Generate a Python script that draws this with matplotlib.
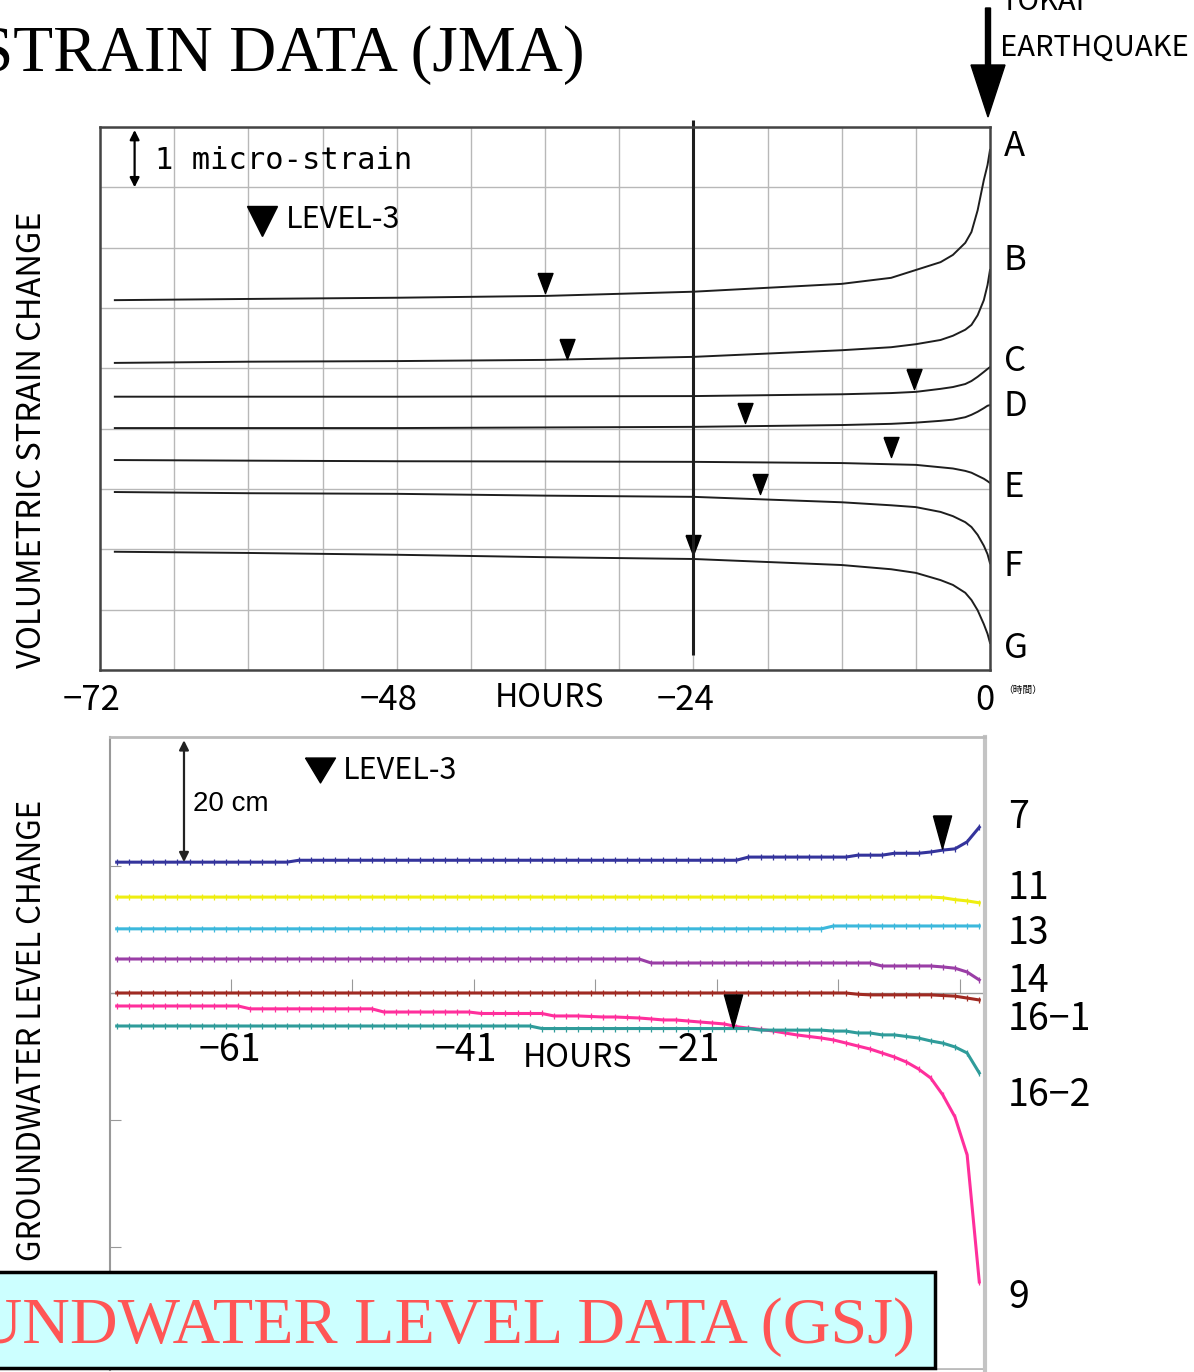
import numpy as np
import matplotlib
matplotlib.use('Agg')
import matplotlib.pyplot as plt
from matplotlib.patches import FancyArrow, Rectangle
from matplotlib.path import Path
from matplotlib.transforms import ScaledTranslation

# ---- top panel: volumetric strain (JMA), micro-strain, hours before quake
strain_hours = [-70.8, -60, -48, -36, -24, -12, -8, -6, -4, -3, -2, -1.5, -1, -0.5, -0.2, 0]
strain_A = [6.13, 6.15, 6.17, 6.20, 6.27, 6.40, 6.50, 6.63, 6.76, 6.88, 7.08, 7.26, 7.62, 8.12, 8.37, 8.62]
strain_B = [5.09, 5.11, 5.12, 5.14, 5.19, 5.30, 5.35, 5.40, 5.47, 5.54, 5.64, 5.72, 5.88, 6.13, 6.38, 6.63]
strain_C = [4.53, 4.53, 4.53, 4.535, 4.54, 4.57, 4.59, 4.61, 4.66, 4.69, 4.74, 4.79, 4.86, 4.94, 4.99, 5.02]
strain_D = [4.01, 4.01, 4.01, 4.02, 4.03, 4.06, 4.08, 4.10, 4.13, 4.15, 4.19, 4.23, 4.28, 4.34, 4.38, 4.39]
strain_E = [3.48, 3.47, 3.46, 3.456, 3.45, 3.43, 3.41, 3.40, 3.36, 3.34, 3.30, 3.27, 3.22, 3.17, 3.13, 3.10]
strain_F = [2.95, 2.93, 2.92, 2.89, 2.87, 2.78, 2.73, 2.70, 2.62, 2.55, 2.45, 2.37, 2.24, 2.06, 1.92, 1.77]
strain_G = [1.96, 1.94, 1.91, 1.87, 1.84, 1.74, 1.67, 1.61, 1.49, 1.41, 1.28, 1.16, 0.99, 0.76, 0.60, 0.45]
strain_names = ['A', 'B', 'C', 'D', 'E', 'F', 'G']
strain_label_y = [8.67, 6.78, 5.11, 4.36, 3.03, 1.72, 0.36]
# level-3 marks (hour, y)
lv3_strain_h = [-36.0, -34.2, -6.15, -19.8, -8.0, -18.6, -24.0]
lv3_strain_y = [6.41, 5.32, 4.82, 4.26, 3.70, 3.08, 2.07]

# ---- bottom panel: groundwater level (GSJ), cm, hourly
gw_hours = np.arange(-70.4, 0.61, 1.0)
gw_7 = [20.6, 20.6, 20.6, 20.6, 20.6, 20.6, 20.6, 20.6, 20.6, 20.6, 20.6, 20.6,
        20.6, 20.6, 20.6, 20.9, 20.9, 20.9, 20.9, 20.9, 20.9, 20.9, 20.9, 20.9,
        20.9, 20.9, 20.9, 20.9, 20.9, 20.9, 20.9, 20.9, 20.9, 20.9, 20.9, 20.9,
        20.9, 20.9, 20.9, 20.9, 20.9, 20.9, 20.9, 20.9, 20.9, 20.9, 20.9, 20.9,
        20.9, 20.9, 20.9, 20.9, 21.4, 21.4, 21.4, 21.4, 21.4, 21.4, 21.4, 21.4,
        21.4, 21.7, 21.7, 21.7, 22.0, 22.0, 22.0, 22.2, 22.5, 22.7, 23.8, 26.1]
gw_11 = [15.1, 15.1, 15.1, 15.1, 15.1, 15.1, 15.1, 15.1, 15.1, 15.1, 15.1, 15.1,
         15.1, 15.1, 15.1, 15.1, 15.1, 15.1, 15.1, 15.1, 15.1, 15.1, 15.1, 15.1,
         15.1, 15.1, 15.1, 15.1, 15.1, 15.1, 15.1, 15.1, 15.1, 15.1, 15.1, 15.1,
         15.1, 15.1, 15.1, 15.1, 15.1, 15.1, 15.1, 15.1, 15.1, 15.1, 15.1, 15.1,
         15.1, 15.1, 15.1, 15.1, 15.1, 15.1, 15.1, 15.1, 15.1, 15.1, 15.1, 15.1,
         15.1, 15.1, 15.1, 15.1, 15.1, 15.1, 15.1, 15.1, 15.0, 14.7, 14.5, 14.2]
gw_13 = [10.1, 10.1, 10.1, 10.1, 10.1, 10.1, 10.1, 10.1, 10.1, 10.1, 10.1, 10.1,
         10.1, 10.1, 10.1, 10.1, 10.1, 10.1, 10.1, 10.1, 10.1, 10.1, 10.1, 10.1,
         10.1, 10.1, 10.1, 10.1, 10.1, 10.1, 10.1, 10.1, 10.1, 10.1, 10.1, 10.1,
         10.1, 10.1, 10.1, 10.1, 10.1, 10.1, 10.1, 10.1, 10.1, 10.1, 10.1, 10.1,
         10.1, 10.1, 10.1, 10.1, 10.1, 10.1, 10.1, 10.1, 10.1, 10.1, 10.1, 10.55,
         10.55, 10.55, 10.55, 10.55, 10.55, 10.55, 10.55, 10.55, 10.55, 10.55, 10.55, 10.55]
gw_14 = [5.35, 5.35, 5.35, 5.35, 5.35, 5.35, 5.35, 5.35, 5.35, 5.35, 5.35, 5.35,
         5.35, 5.35, 5.35, 5.35, 5.35, 5.35, 5.35, 5.35, 5.35, 5.35, 5.35, 5.35,
         5.35, 5.35, 5.35, 5.35, 5.35, 5.35, 5.35, 5.35, 5.35, 5.35, 5.35, 5.35,
         5.35, 5.35, 5.35, 5.35, 5.35, 5.35, 5.35, 5.35, 4.72, 4.72, 4.72, 4.72,
         4.72, 4.72, 4.72, 4.72, 4.72, 4.72, 4.72, 4.72, 4.72, 4.72, 4.72, 4.72,
         4.72, 4.72, 4.72, 4.25, 4.25, 4.25, 4.25, 4.25, 4.1, 3.9, 3.3, 2.05]
gw_16_1 = [0.0, 0.0, 0.0, 0.0, 0.0, 0.0, 0.0, 0.0, 0.0, 0.0, 0.0, 0.0,
           0.0, 0.0, 0.0, 0.0, 0.0, 0.0, 0.0, 0.0, 0.0, 0.0, 0.0, 0.0,
           0.0, 0.0, 0.0, 0.0, 0.0, 0.0, 0.0, 0.0, 0.0, 0.0, 0.0, 0.0,
           0.0, 0.0, 0.0, 0.0, 0.0, 0.0, 0.0, 0.0, 0.0, 0.0, 0.0, 0.0,
           0.0, 0.0, 0.0, 0.0, 0.0, 0.0, 0.0, 0.0, 0.0, 0.0, 0.0, 0.0,
           0.0, -0.2, -0.3, -0.3, -0.3, -0.3, -0.3, -0.3, -0.4, -0.5, -0.8, -1.1]
gw_16_2 = [-5.2, -5.2, -5.2, -5.2, -5.2, -5.2, -5.2, -5.2, -5.2, -5.2, -5.2, -5.2,
           -5.2, -5.2, -5.2, -5.2, -5.2, -5.2, -5.2, -5.2, -5.2, -5.2, -5.2, -5.2,
           -5.2, -5.2, -5.2, -5.2, -5.2, -5.2, -5.2, -5.2, -5.2, -5.2, -5.2, -5.6,
           -5.6, -5.6, -5.6, -5.6, -5.6, -5.6, -5.6, -5.6, -5.6, -5.6, -5.6, -5.6,
           -5.6, -5.6, -5.6, -5.6, -5.6, -5.85, -5.85, -5.85, -5.85, -5.85, -5.85, -6.0,
           -6.0, -6.3, -6.3, -6.6, -6.6, -6.85, -7.1, -7.55, -7.9, -8.5, -9.45, -12.6]
gw_9 = [-2.05, -2.05, -2.05, -2.05, -2.05, -2.05, -2.05, -2.05, -2.05, -2.05, -2.05, -2.5,
        -2.5, -2.5, -2.5, -2.5, -2.5, -2.5, -2.5, -2.5, -2.5, -2.5, -3.0, -3.0,
        -3.0, -3.0, -3.0, -3.0, -3.0, -3.0, -3.23, -3.23, -3.23, -3.23, -3.23, -3.23,
        -3.62, -3.62, -3.62, -3.70, -3.78, -3.78, -3.86, -3.94, -4.09, -4.25, -4.25, -4.41,
        -4.57, -4.72, -4.88, -5.3, -5.55, -5.75, -5.98, -6.3, -6.61, -6.85, -7.09, -7.4,
        -7.87, -8.35, -8.82, -9.45, -10.08, -10.87, -11.97, -13.39, -16.06, -19.53, -25.51, -45.51]
gw_series = [gw_7, gw_11, gw_13, gw_14, gw_16_1, gw_9, gw_16_2]
gw_colors = ['#34349c', '#eeee10', '#3cb8dc', '#9a3ea6', '#a02a22', '#ff2f9c', '#2f9c9a']
gw_names = ['7', '11', '13', '14', '16−1', '16−2', '9']
gw_label_y = [27.6, 16.4, 9.3, 1.73, -4.25, -16.2, -47.9]
lv3_gw_h = [-2.47, -19.67]
lv3_gw_y = [25.4, -2.91]

W, H = 1194, 1372
fig = plt.figure(figsize=(W / 100, H / 100), dpi=100)

# gothic-looking narrow latin (Japanese figure style)
NARROW = dict(family=['Noto Sans CJK JP', 'DejaVu Sans'])
SERIF = dict(family='Liberation Serif')

tri_small = Path([(-0.75, 1), (0.75, 1), (0, -1), (-0.75, 1)])
tri_tall = Path([(-0.55, 1), (0.55, 1), (0, -1), (-0.55, 1)])
tri_wide = Path([(-1, 0.83), (1, 0.83), (0, -0.83), (-1, 0.83)])

# ================= top panel
ax1 = fig.add_axes([100 / W, 1 - 670 / H, 890 / W, 543 / H])
ax1.set_xlim(-72, 0)
ax1.set_ylim(0, 9)
for vals in [strain_A, strain_B, strain_C, strain_D, strain_E, strain_F, strain_G]:
    ax1.plot(strain_hours, vals, color='#1e1e1e', lw=1.4)
ax1.plot(lv3_strain_h, lv3_strain_y, ls='none', marker=tri_small, ms=14.4, color='black')
ax1.vlines(-24, 0.25, 9.12, color='#1e1e1e', lw=2.2, clip_on=False)

ax1.set_xticks(np.arange(-72, 1, 6), minor=True)
ax1.set_xticks([-72, -48, -24, 0], ['−72', '−48', '−24', '0'])
ax1.set_yticks(range(10))
ax1.set_yticklabels([])
ax1.grid(True, which='both', color='#b8b8b8', lw=1.0)
ax1.tick_params(which='both', length=0, pad=9)
for lab in ax1.get_xticklabels():
    lab.set(**NARROW)
    lab.set_fontsize(25)
    shift = -0.08 if lab.get_text().startswith('−') else -0.05
    lab.set_transform(lab.get_transform() + ScaledTranslation(shift, 0, fig.dpi_scale_trans))
for s in ax1.spines.values():
    s.set_color('#444444')
    s.set_linewidth(1.8)

ax1.text(-35.6, -0.0516, 'HOURS', transform=ax1.get_xaxis_transform(),
         ha='center', va='center', fontsize=23, **NARROW)
for name, y in zip(strain_names, strain_label_y):
    ax1.text(1.1, y, name, ha='left', va='center', fontsize=25, clip_on=False, **NARROW)

ax1.annotate('', xy=(-69.2, 8.0), xytext=(-69.2, 8.95),
             arrowprops=dict(arrowstyle='<|-|>', lw=1.6, color='black',
                             mutation_scale=14, shrinkA=0, shrinkB=0))
ax1.text(-67.55, 8.45, '1 micro-strain', ha='left', va='center',
         fontsize=22, family='DejaVu Sans Mono')
ax1.plot([-58.9], [7.44], marker='v', ms=21, color='black')
ax1.text(-57.0, 7.46, 'LEVEL-3', ha='left', va='center', fontsize=22, **NARROW)

# ================= bottom panel
ax2 = fig.add_axes([110 / W, 1 - 1370 / H, 875 / W, 633 / H])
ax2.set_xlim(-70.95, 1.07)
ax2.set_ylim(-59.37, 40.31)
for vals, col in zip(gw_series, gw_colors):
    ax2.plot(gw_hours, vals, color=col, lw=2.2, marker='|', ms=4, mew=0.9)
ax2.plot(lv3_gw_h, lv3_gw_y, ls='none', marker=tri_tall, ms=23.8, color='black')

ax2.spines['bottom'].set_position(('data', 0))
ax2.spines['bottom'].set_color('#999999')
ax2.spines['bottom'].set_linewidth(1.0)
ax2.spines['bottom'].set_zorder(1)
ax2.spines['left'].set_color('#999999')
ax2.spines['left'].set_linewidth(1.5)
ax2.spines['top'].set_color('#bbbbbb')
ax2.spines['top'].set_linewidth(2)
ax2.spines['right'].set_color('#c4c4c4')
ax2.spines['right'].set_linewidth(3)
ax2.axhline(-59.2, color='#bbbbbb', lw=2)
ax2.set_xticks([-61, -51, -41, -31, -21, -11, -1])
ax2.set_yticks([20, 0, -20, -40])
ax2.tick_params(axis='x', direction='in', length=10, color='#999999',
                labelbottom=False)
ax2.tick_params(axis='y', direction='in', length=8, color='#999999',
                labelleft=False)

for h, txt in [(-61.07, '−61'), (-41.65, '−41'), (-23.3, '−21')]:
    ax2.text(h, -8.98, txt, ha='center', va='center', fontsize=27, **NARROW)
ax2.text(-32.43, -10.2, 'HOURS', ha='center', va='center', fontsize=23, **NARROW)
for name, y in zip(gw_names, gw_label_y):
    ax2.text(2.96, y, name, ha='left', va='center', fontsize=27, clip_on=False, **NARROW)

ax2.annotate('', xy=(-64.86, 20.6), xytext=(-64.86, 39.8),
             arrowprops=dict(arrowstyle='<|-|>', lw=1.6, color='#222222',
                             mutation_scale=14, shrinkA=0, shrinkB=0))
ax2.text(-64.1, 29.8, '20 cm', ha='left', va='center', fontsize=20,
         family='Liberation Sans')
ax2.plot([-53.66], [35.1], marker=tri_wide, ms=21.6, color='black')
ax2.text(-51.8, 35.0, 'LEVEL-3', ha='left', va='center', fontsize=22, **NARROW)

# ================= overlay in pixel coordinates
ov = fig.add_axes([0, 0, 1, 1])
ov.set_xlim(0, W)
ov.set_ylim(H, 0)
ov.axis('off')

ov.text(585, 71, 'STRAIN DATA (JMA)', ha='right', va='baseline', fontsize=47, **SERIF)
ov.text(1000, 10, 'TOKAI', ha='left', va='baseline', fontsize=21, **NARROW)
ov.text(1000, 56, 'EARTHQUAKE', ha='left', va='baseline', fontsize=21, **NARROW)
ov.add_patch(FancyArrow(988, 8, 0, 109, width=5, head_width=34, head_length=52,
                        length_includes_head=True, color='black'))
ov.text(1003, 690, '（時間）', ha='left', va='center', fontsize=7,
        family=['Noto Sans CJK JP', 'DejaVu Sans'])

ov.text(32, 440, 'VOLUMETRIC STRAIN CHANGE', rotation=90, ha='center', va='center',
        fontsize=23.5, **NARROW)
ov.text(32, 1030, 'GROUNDWATER LEVEL CHANGE', rotation=90, ha='center', va='center',
        fontsize=22.5, **NARROW)

ov.add_patch(Rectangle((-10, 1272), 945, 96, facecolor='#ccffff',
                       edgecolor='black', lw=2.5))
ov.text(915, 1343, 'GROUNDWATER LEVEL DATA (GSJ)', ha='right', va='baseline',
        fontsize=47.5, color='#ff5555', **SERIF)

fig.savefig('out.png', dpi=100)
